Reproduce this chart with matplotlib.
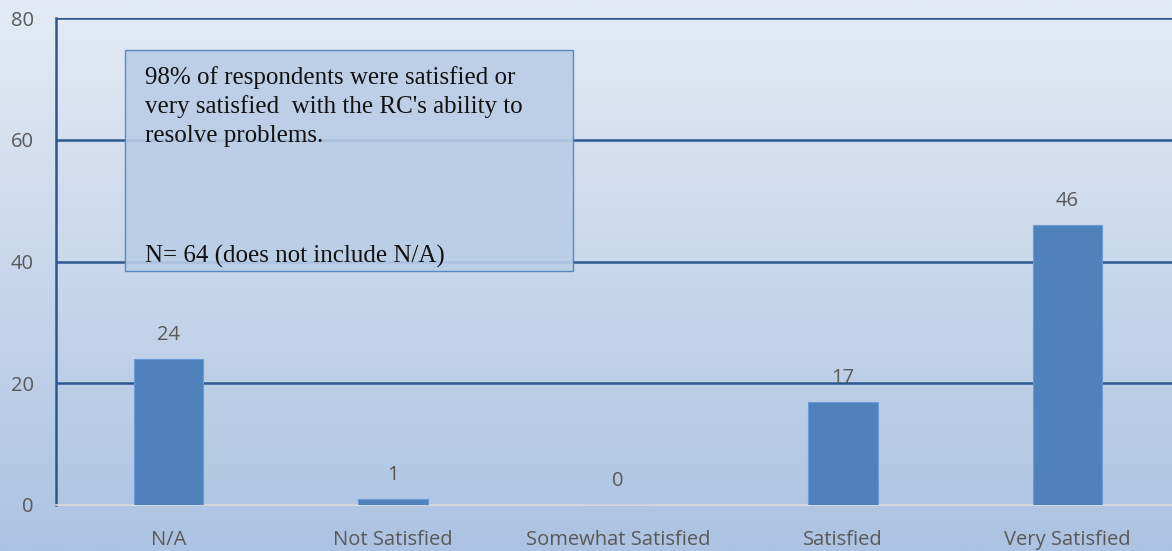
import numpy as np
import matplotlib
matplotlib.use("Agg")
import matplotlib.pyplot as plt
from matplotlib.patches import Rectangle

categories = ["N/A", "Not Satisfied", "Somewhat Satisfied", "Satisfied", "Very Satisfied"]
counts = [24, 1, 0, 17, 46]
y_ticks = [0, 20, 40, 60, 80]
note_top = ["98% of respondents were satisfied or",
            "very satisfied  with the RC's ability to",
            "resolve problems."]
note_bottom = "N= 64 (does not include N/A)"

W, H = 1172, 551
fig = plt.figure(figsize=(W / 100, H / 100), dpi=100)

# vertical gradient behind everything
bg = fig.add_axes([0, 0, 1, 1], zorder=-1)
top = np.array([228, 235, 245]) / 255
bot = np.array([172, 195, 225]) / 255
t = np.linspace(0, 1, 256)[:, None]
grad = top[None, :] * (1 - t) + bot[None, :] * t
bg.imshow(grad[:, None, :], aspect="auto", extent=[0, 1, 0, 1])
bg.axis("off")

ax = fig.add_axes([56 / W, 1 - 505 / H, 1124 / W, 487 / H])
ax.set_facecolor("none")
x = np.arange(len(categories))
bars = ax.bar(x, counts, width=0.31, color="#4f81bd", edgecolor="#6b9ad6",
              linewidth=0.8, zorder=3)
ax.set_xlim(-0.5, len(categories) - 0.5)
ax.set_ylim(0, 80)
ax.set_yticks(y_ticks)
for v in y_ticks[1:]:
    ax.axhline(v, color="#2c5890", lw=1.8, zorder=1)

for s in ["top", "right"]:
    ax.spines[s].set_visible(False)
ax.spines["left"].set_color("#2c5890")
ax.spines["left"].set_linewidth(1.8)
ax.spines["bottom"].set_color("#dcdcdc")
ax.spines["bottom"].set_linewidth(1.2)

lab_font = dict(family="Open Sans", size=14.5, color="#595959")
ax.set_xticks(x)
ax.set_xticklabels(categories, **lab_font)
ax.set_yticklabels([str(v) for v in y_ticks], **lab_font)
ax.tick_params(length=0)
ax.tick_params(axis="x", pad=18)
ax.tick_params(axis="y", pad=16)

for xi, v in zip(x, counts):
    ax.annotate(str(v), (xi, v), xytext=(0, 17), textcoords="offset points",
                ha="center", va="center", **lab_font, zorder=4)

# note box over the plot
box = Rectangle((125 / W, 1 - 271 / H), 448 / W, 221 / H, transform=fig.transFigure,
                facecolor="#b9cde6", edgecolor="#4f81bd", lw=1.0, alpha=0.9, zorder=5)
fig.add_artist(box)
serif = dict(family="Liberation Serif", size=18, color="#111111")
for i, line in enumerate(note_top):
    fig.text(145 / W, 1 - (84 + 29 * i) / H, line, ha="left", va="baseline",
             zorder=6, **serif)
fig.text(145 / W, 1 - 263 / H, note_bottom, ha="left", va="baseline", zorder=6, **serif)

fig.savefig("out.png", dpi=100)
